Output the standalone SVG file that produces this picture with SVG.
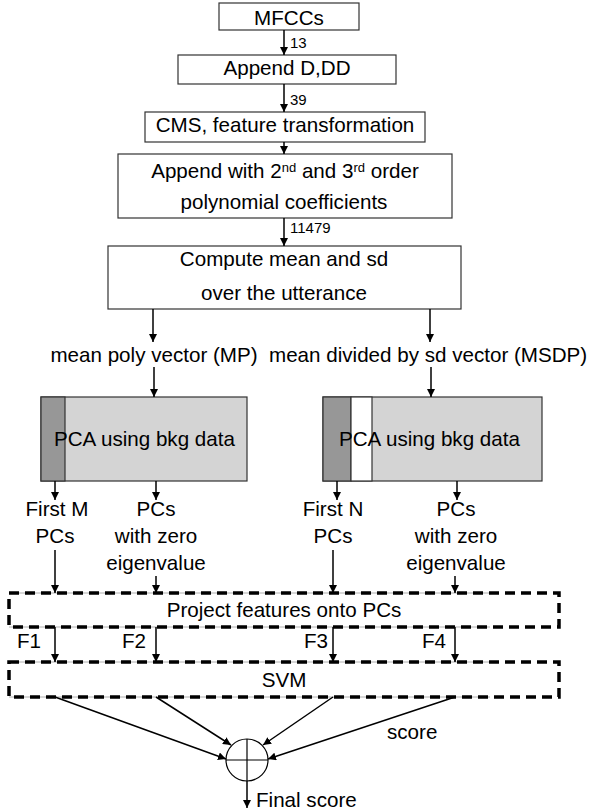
<svg xmlns="http://www.w3.org/2000/svg" width="590" height="812" viewBox="0 0 590 812">
<defs>
<marker id="ah" viewBox="0 0 10 10" refX="10" refY="5" markerWidth="8" markerHeight="8" markerUnits="userSpaceOnUse" orient="auto">
<path d="M0,0 L10,5 L0,10 z" fill="#000"/>
</marker>
<style>
text{font-family:"Liberation Sans",Arial,sans-serif;font-size:20.6px;fill:#000}
.c{text-anchor:middle}
.s{font-size:15px}
.sup{font-size:13px}
.box{fill:#fff;stroke:#333;stroke-width:1.2}
.pca{fill:#d4d4d4;stroke:#333;stroke-width:1.2}
.dark{fill:#979797;stroke:#333;stroke-width:1.2}
.dash{fill:none;stroke:#000;stroke-width:3.5;stroke-dasharray:10 6}
.thin{stroke:#999;stroke-width:0.8;fill:none}
.arr{stroke:#000;stroke-width:1.5;fill:none;marker-end:url(#ah)}
</style>
</defs>
<rect width="590" height="812" fill="#fff"/>

<g id="mfccs">
<rect class="box" x="219" y="3" width="140" height="27"/>
<text class="c" x="289" y="25">MFCCs</text>
</g>
<g id="append-d-dd">
<rect class="box" x="178" y="55" width="218" height="29"/>
<text class="c" x="287" y="75">Append D,DD</text>
</g>
<g id="cms">
<rect class="box" x="145" y="112" width="280" height="30"/>
<text class="c" x="285" y="132">CMS, feature transformation</text>
</g>
<g id="append-poly">
<rect class="box" x="118" y="154" width="334" height="64"/>
<text class="c" x="285" y="178">Append with 2<tspan class="sup" dy="-6">nd</tspan><tspan dy="6"> and 3</tspan><tspan class="sup" dy="-6">rd</tspan><tspan dy="6"> order</tspan></text>
<text class="c" x="284" y="209">polynomial coefficients</text>
</g>
<g id="compute">
<rect class="box" x="108" y="246" width="353" height="63"/>
<text class="c" x="284" y="266">Compute mean and sd</text>
<text class="c" x="284" y="300">over the utterance</text>
</g>
<g id="mp-label">
<text class="c" x="154" y="362">mean poly vector (MP)</text>
</g>
<g id="msdp-label">
<text x="269" y="362">mean divided by sd vector (MSDP)</text>
</g>
<g id="pca-left">
<rect class="pca" x="41" y="397" width="206" height="84"/>
<rect class="dark" x="41" y="397" width="24" height="84"/>
<text x="54" y="446">PCA using bkg data</text>
</g>
<g id="pca-right">
<rect class="pca" x="323" y="397" width="219" height="84"/>
<rect class="dark" x="323" y="397" width="28" height="84"/>
<rect class="box" x="351" y="397" width="21" height="84"/>
<text x="339" y="446">PCA using bkg data</text>
</g>
<g id="first-m">
<text class="c" x="57" y="516">First M</text>
<text class="c" x="55" y="543">PCs</text>
</g>
<g id="zero-left">
<text class="c" x="156" y="516">PCs</text>
<text class="c" x="156" y="543">with zero</text>
<text class="c" x="156" y="570">eigenvalue</text>
</g>
<g id="first-n">
<text class="c" x="333" y="516">First N</text>
<text class="c" x="333" y="543">PCs</text>
</g>
<g id="zero-right">
<text class="c" x="456" y="516">PCs</text>
<text class="c" x="456" y="543">with zero</text>
<text class="c" x="456" y="570">eigenvalue</text>
</g>
<g id="project">
<line class="thin" x1="9" y1="593" x2="490" y2="593"/>
<line class="thin" x1="9" y1="627" x2="490" y2="627"/>
<rect class="dash" x="9" y="593" width="550" height="34"/>
<text class="c" x="284" y="617">Project features onto PCs</text>
</g>
<g id="svm">
<line class="thin" x1="9" y1="662" x2="490" y2="662"/>
<line class="thin" x1="9" y1="697" x2="490" y2="697"/>
<rect class="dash" x="9" y="662" width="550" height="35"/>
<text class="c" x="284" y="687">SVM</text>
</g>
<g id="sum">
<circle cx="247" cy="760" r="21" fill="#fff" stroke="#000" stroke-width="1.2"/>
<line x1="226" y1="760" x2="268" y2="760" stroke="#000" stroke-width="1.2"/>
<line x1="247" y1="739" x2="247" y2="781" stroke="#000" stroke-width="1.2"/>
</g>

<g id="connectors">
<line class="arr" x1="284" y1="30" x2="284" y2="55"/>
<text class="s" x="290" y="48">13</text>
<line class="arr" x1="284" y1="84" x2="284" y2="112"/>
<text class="s" x="290" y="105">39</text>
<line class="arr" x1="284" y1="142" x2="284" y2="154"/>
<line class="arr" x1="284" y1="218" x2="284" y2="246"/>
<text class="s" x="290" y="233">11479</text>
<line class="arr" x1="153" y1="309" x2="153" y2="342"/>
<line class="arr" x1="430" y1="309" x2="430" y2="342"/>
<line class="arr" x1="154" y1="367" x2="154" y2="397"/>
<line class="arr" x1="431" y1="367" x2="431" y2="397"/>
<line class="arr" x1="55" y1="481" x2="55" y2="500"/>
<line class="arr" x1="156" y1="481" x2="156" y2="500"/>
<line class="arr" x1="337" y1="481" x2="337" y2="500"/>
<line class="arr" x1="457" y1="481" x2="457" y2="500"/>
<line class="arr" x1="55" y1="550" x2="55" y2="593"/>
<line class="arr" x1="156" y1="576" x2="156" y2="593"/>
<line class="arr" x1="333" y1="550" x2="333" y2="593"/>
<line class="arr" x1="455" y1="576" x2="455" y2="593"/>
<line class="arr" x1="55" y1="627" x2="55" y2="662"/>
<text class="c" x="29" y="648">F1</text>
<line class="arr" x1="156" y1="627" x2="156" y2="662"/>
<text class="c" x="134" y="648">F2</text>
<line class="arr" x1="333" y1="627" x2="333" y2="662"/>
<text class="c" x="316" y="648">F3</text>
<line class="arr" x1="455" y1="627" x2="455" y2="662"/>
<text class="c" x="434" y="648">F4</text>
<line class="arr" x1="55" y1="697" x2="226" y2="759"/>
<line class="arr" x1="156" y1="697" x2="231" y2="745"/>
<line class="arr" x1="333" y1="697" x2="263" y2="745"/>
<line class="arr" x1="455" y1="697" x2="268" y2="759"/>
<text x="387" y="739">score</text>
<line class="arr" x1="247" y1="781" x2="247" y2="808"/>
<text x="256" y="807">Final score</text>
</g>
</svg>
